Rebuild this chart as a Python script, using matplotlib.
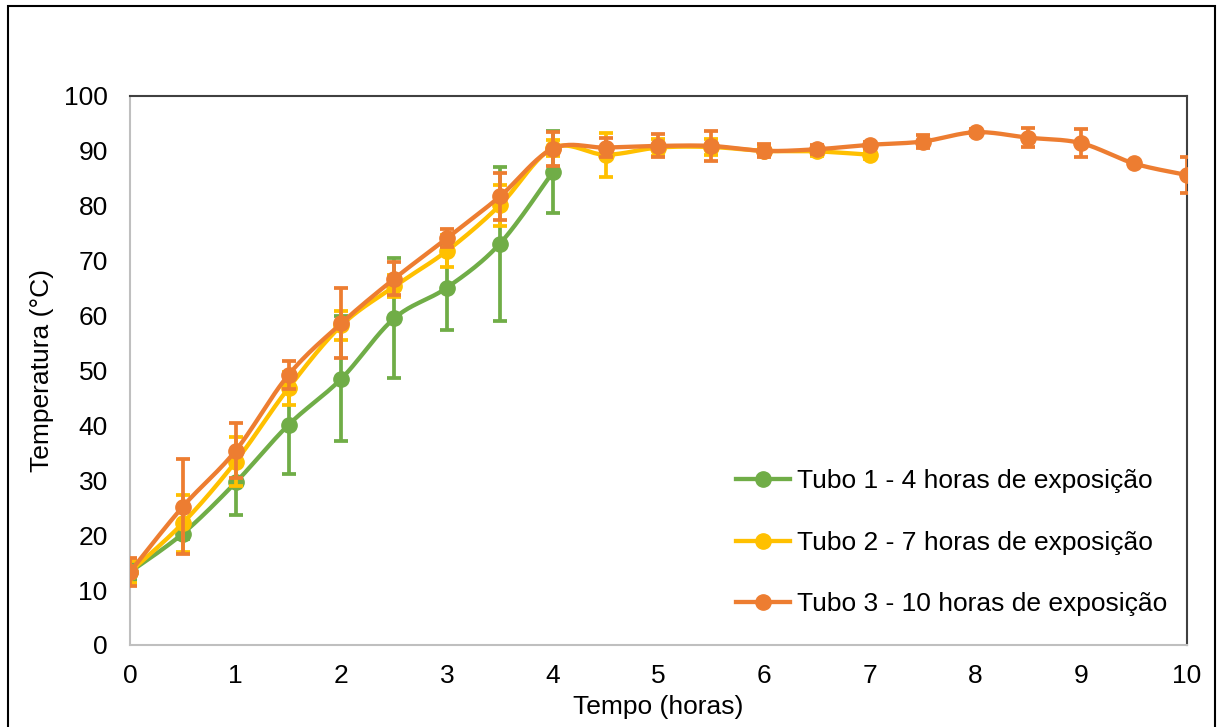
#!/usr/bin/env python3
"""
Temperature vs time for three tubes (mean +/- error), Excel-style smoothed lines.
"""

import matplotlib
matplotlib.use("Agg")
import matplotlib.pyplot as plt
import numpy as np
from matplotlib.lines import Line2D
from matplotlib.patches import Rectangle

plt.rcParams["font.family"] = ["Liberation Sans", "DejaVu Sans"]

# ---------------------------------------------------------------------------
# data
# ---------------------------------------------------------------------------

TEMPO = [0, 0.5, 1, 1.5, 2, 2.5, 3, 3.5, 4, 4.5, 5, 5.5, 6, 6.5, 7,
         7.5, 8, 8.5, 9, 9.5, 10]

TUBO1 = [13.3, 20.3, 29.6, 40.1, 48.5, 59.5, 65.1, 73.1, 86.1]
TUBO1_ERR = [1.5, 1.0, 5.9, 9.0, 11.4, 10.9, 7.7, 14.0, 7.5]

TUBO2 = [13.3, 22.2, 33.4, 46.8, 58.2, 65.3, 71.8, 80.1, 90.5, 89.3,
         90.6, 90.7, 90.0, 89.9, 89.3]
TUBO2_ERR = [2.0, 5.2, 4.4, 3.0, 2.6, 2.0, 2.9, 3.7, 1.5, 4.0,
             1.5, 1.5, 0.8, 0.8, 0.8]

TUBO3 = [13.3, 25.2, 35.4, 49.2, 58.6, 66.7, 74.1, 81.7, 90.4, 90.6,
         90.9, 90.9, 90.0, 90.3, 91.1, 91.7, 93.4, 92.4, 91.4, 87.7, 85.6]
TUBO3_ERR = [2.6, 8.7, 5.0, 2.5, 6.4, 3.0, 1.7, 4.3, 3.1, 1.7,
             2.1, 2.7, 1.2, 0.8, 0.5, 1.2, 0.5, 1.7, 2.6, 0.3, 3.2]

LABELS = [
    "Tubo 1 - 4 horas de exposição",
    "Tubo 2 - 7 horas de exposição",
    "Tubo 3 - 10 horas de exposição",
]

GREEN  = "#70AD47"
YELLOW = "#FFC000"
ORANGE = "#ED7D31"

FS = 19


def smooth(x, y, n=24):
    """Bezier smoothing through the points, roughly what Excel does."""
    pts = np.column_stack([x, y]).astype(float)
    padded = np.vstack([pts[0], pts, pts[-1]])
    s = np.linspace(0, 1, n)[:, None]
    out = []
    for i in range(len(pts) - 1):
        p0, p1, p2, p3 = padded[i], padded[i + 1], padded[i + 2], padded[i + 3]
        c1 = p1 + (p2 - p0) / 6.0
        c2 = p2 - (p3 - p1) / 6.0
        seg = ((1 - s) ** 3 * p1 + 3 * (1 - s) ** 2 * s * c1
               + 3 * (1 - s) * s ** 2 * c2 + s ** 3 * p2)
        out.append(seg if i == 0 else seg[1:])
    curve = np.vstack(out)
    return curve[:, 0], curve[:, 1]


def draw_series(ax, y, err, color, z):
    x = TEMPO[:len(y)]
    xs, ys = smooth(x, y)
    ax.plot(xs, ys, color=color, lw=3.1, zorder=z, solid_capstyle="round")
    ax.errorbar(x, y, yerr=err, fmt="none", ecolor=color, elinewidth=2.7,
                capsize=5, capthick=2.7, zorder=z)
    ax.plot(x, y, "o", color=color, ms=11, zorder=z + 0.5)


def main():
    fig = plt.figure(figsize=(12.18, 7.27), dpi=100)
    ax = fig.add_axes([0.1067, 0.1128, 0.8678, 0.7552])

    draw_series(ax, TUBO1, TUBO1_ERR, GREEN, 3)
    draw_series(ax, TUBO2, TUBO2_ERR, YELLOW, 4)
    draw_series(ax, TUBO3, TUBO3_ERR, ORANGE, 5)

    ax.set_xlim(0, 10)
    ax.set_ylim(0, 100)
    ax.set_xticks(np.arange(0, 11, 1))
    ax.set_yticks(np.arange(0, 101, 10))
    ax.tick_params(axis="both", length=0, labelsize=FS)
    ax.tick_params(axis="y", pad=16)
    ax.tick_params(axis="x", pad=14)

    for side in ("left", "bottom"):
        ax.spines[side].set_color("#BFBFBF")
        ax.spines[side].set_linewidth(1.5)
    for side in ("top", "right"):
        ax.spines[side].set_color("#404040")
        ax.spines[side].set_linewidth(1.5)

    ax.set_xlabel("Tempo (horas)", fontsize=FS, labelpad=5)
    ax.set_ylabel("Temperatura (°C)", fontsize=FS, labelpad=7)

    handles = [Line2D([], [], color=c, lw=3.1, marker="o", ms=11)
               for c in (GREEN, YELLOW, ORANGE)]
    ax.legend(handles, LABELS, loc="upper left", bbox_to_anchor=(0.573, 0.320),
              frameon=False, fontsize=FS, labelspacing=1.42, handlelength=2.05,
              handletextpad=0.27, borderpad=0, borderaxespad=0)

    # outer chart border
    fig.patches.append(Rectangle((0.0066, -0.01), 0.991, 1.0017,
                                 transform=fig.transFigure, fill=False,
                                 edgecolor="black", linewidth=1.5))

    fig.savefig("out.png", dpi=100, facecolor="white")
    plt.close(fig)


if __name__ == "__main__":
    main()
